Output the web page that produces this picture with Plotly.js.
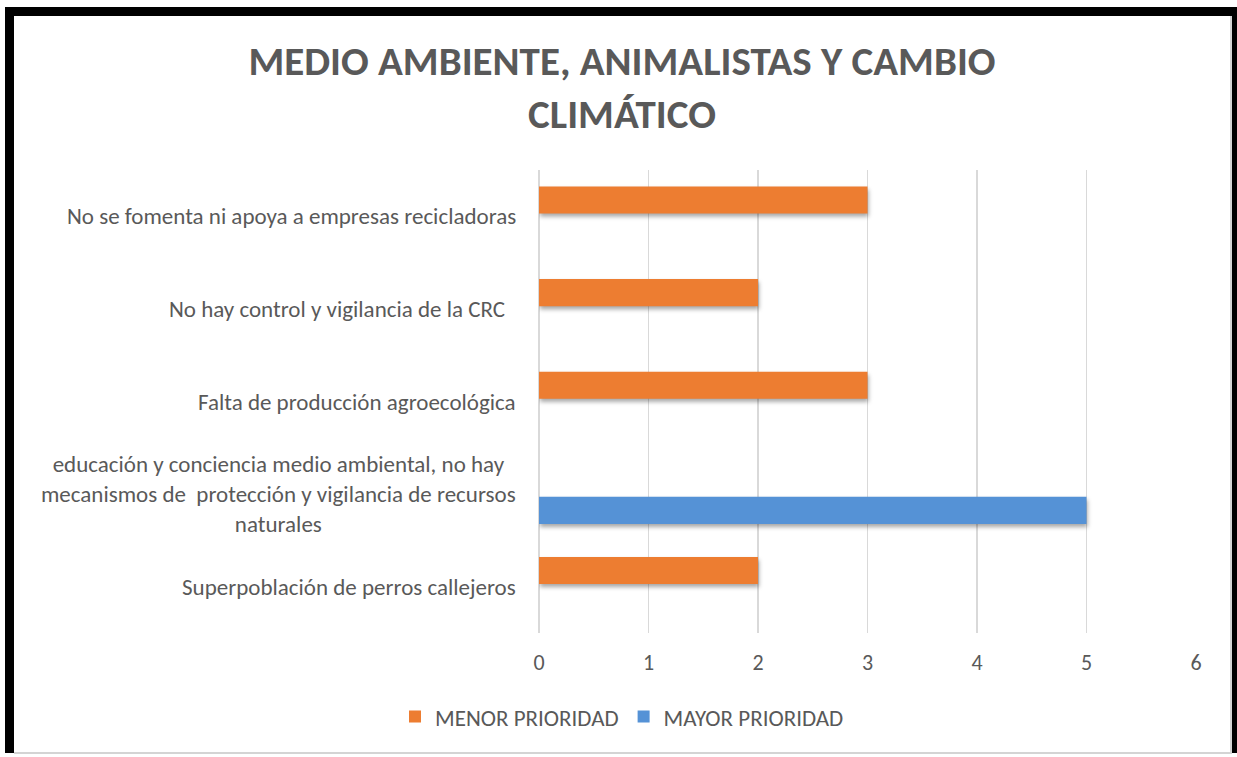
<!DOCTYPE html>
<html>
<head>
<meta charset="utf-8">
<script src="https://cdn.plot.ly/plotly-3.0.1.min.js"></script>
<style>
  html, body { margin:0; padding:0; width:1237px; height:757px; background:#fff; overflow:hidden; }
  #frame { position:absolute; left:5px; top:7px; width:1232px; height:746px; background:#000; }
  #inner { position:absolute; left:14px; top:16px; width:1216px; height:736px; background:#fff;
           border-right:2px solid #d4d4d4; border-bottom:2px solid #d4d4d4; }
  #chart { position:absolute; left:14px; top:16px; width:1216px; height:736px; }
  #chart .bars path { filter: drop-shadow(1px 3px 2px rgba(0,0,0,0.35)); }
</style>
</head>
<body>
<div id="frame"></div>
<div id="inner"></div>
<div id="chart"></div>
<script>
const categories = [
  "Superpoblación de perros callejeros",
  "educación y conciencia medio ambiental, no hay<br>mecanismos de  protección y vigilancia de recursos<br>naturales",
  "Falta de producción agroecológica",
  "No hay control y vigilancia de la CRC ",
  "No se fomenta ni apoya a empresas recicladoras"
];
const menorPrioridad = [2, null, 3, 2, 3];
const mayorPrioridad = [null, 5, null, null, null];
const xTicks = [0, 1, 2, 3, 4, 5, 6];

const FONT = "Carlito, Lato, 'Liberation Sans', sans-serif";
const GREY = "#595959";

const traces = [
  { type:'bar', orientation:'h', name:'MAYOR PRIORIDAD', y:categories, x:mayorPrioridad,
    marker:{ color:'#5592D6' }, hoverinfo:'x+y' },
  { type:'bar', orientation:'h', name:'MENOR PRIORIDAD', y:categories, x:menorPrioridad,
    marker:{ color:'#ED7D31' }, hoverinfo:'x+y' }
];

const annotations = categories.map(c => ({
  xref:'paper', yref:'y', x:0, y:c, xanchor:'right', yanchor:'middle',
  xshift: c.endsWith(' ') ? -27 : -21,
  text:c, showarrow:false, align:'center',
  font:{ family:FONT, size:23, color:GREY }
}));

const layout = {
  width:1216, height:736,
  paper_bgcolor:'rgba(0,0,0,0)', plot_bgcolor:'rgba(0,0,0,0)',
  margin:{ l:525, r:34, t:154, b:119 },
  title:{ text:'<b>MEDIO AMBIENTE, ANIMALISTAS Y CAMBIO<br>CLIMÁTICO</b>',
          font:{ family:FONT, size:41, color:GREY },
          x:0.5, xanchor:'center', y:0.92, yanchor:'top' },
  barmode:'group', bargap:0.296, bargroupgap:0.17,
  xaxis:{ range:[0,6], tickvals:xTicks, ticktext:xTicks.map(String),
          showgrid:true, gridcolor:'#d9d9d9', gridwidth:1.3,
          zeroline:true, zerolinecolor:'#d9d9d9', zerolinewidth:1.3,
          showline:false, ticks:'', ticklabelstandoff:14,
          tickfont:{ family:FONT, size:22, color:GREY }, fixedrange:true },
  yaxis:{ type:'category', categoryorder:'array', categoryarray:categories,
          showticklabels:false, showgrid:false, zeroline:false, showline:false, ticks:'', fixedrange:true },
  showlegend:true,
  legend:{ orientation:'h', traceorder:'reversed', xref:'container', yref:'container',
           x:0.5, xanchor:'center', y:0.048, yanchor:'middle',
           font:{ family:FONT, size:23, color:GREY }, itemwidth:30 },
  annotations:annotations
};

Plotly.newPlot('chart', traces, layout, { displayModeBar:false, staticPlot:true });
</script>
</body>
</html>
